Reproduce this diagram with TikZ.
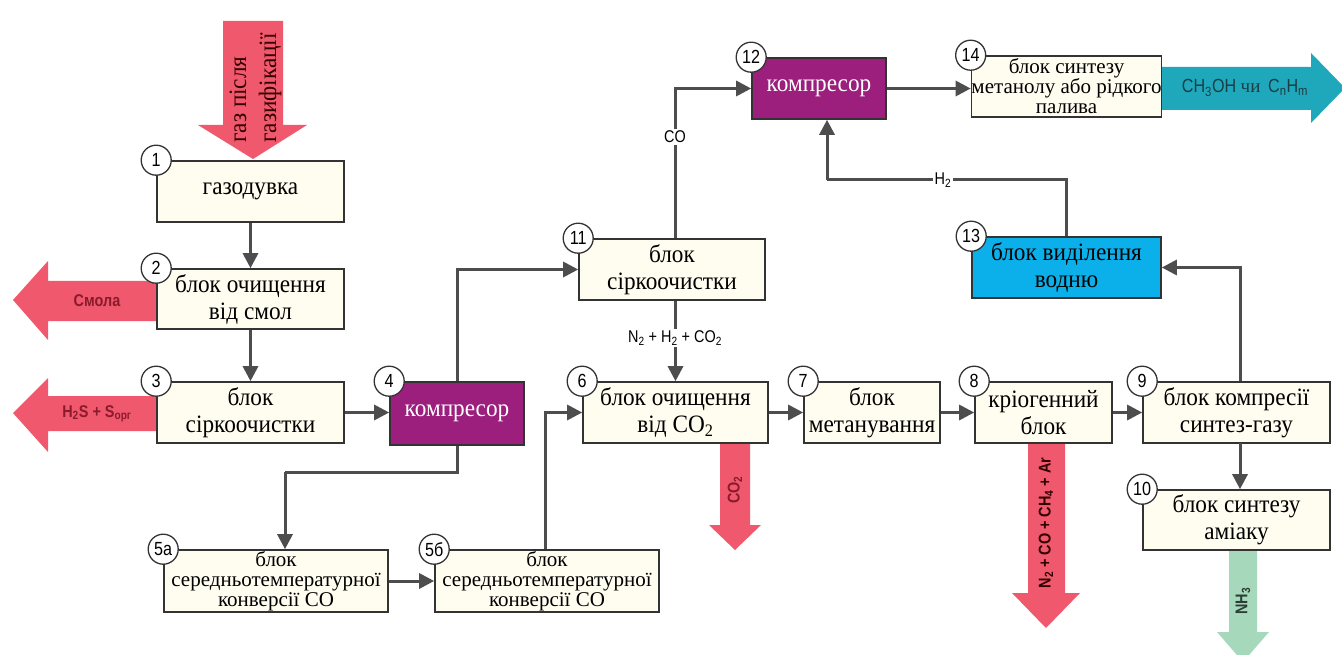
\documentclass[tikz,border=0pt]{standalone}
\usepackage{fontspec}
\setmainfont{Liberation Serif}
\newfontfamily\boxfont[FakeStretch=0.93]{Liberation Serif}
\newfontfamily\condsans[FakeStretch=0.85]{Liberation Sans}
\usetikzlibrary{arrows.meta}
\definecolor{cream}{HTML}{FFFCF0}
\definecolor{boxline}{HTML}{333333}
\definecolor{lineg}{HTML}{4D4D4D}
\definecolor{redarr}{HTML}{F0596D}
\definecolor{tealarr}{HTML}{1FA8BC}
\definecolor{mintarr}{HTML}{A6D8BC}
\definecolor{purp}{HTML}{9C1F7E}
\definecolor{cyanb}{HTML}{0BAFE9}
\definecolor{darkred}{HTML}{8A1A2C}
\definecolor{darkteal}{HTML}{1B3E46}
\definecolor{darkgreen}{HTML}{2C3D35}
\begin{document}
\begin{tikzpicture}[x=1pt,y=-1pt,
  blk/.style={draw=boxline, line width=1.6pt, fill=cream, inner sep=0pt, align=center,
    font=\boxfont\fontsize{25}{27}\selectfont},
  smallblk/.style={blk, font=\fontsize{21}{20}\selectfont},
  purpblk/.style={blk, fill=purp, text=white},
  cyanblk/.style={blk, fill=cyanb},
  numc/.style={circle, draw=boxline, line width=1.3pt, fill=white, minimum size=30pt,
    inner sep=0pt, font=\condsans\fontsize{19}{19}\selectfont},
  conn/.style={draw=lineg, line width=3pt, -{Triangle[length=15pt,width=15pt]}},
  plain/.style={draw=lineg, line width=3pt},
  lbl/.style={fill=white, inner sep=2pt, font=\condsans\fontsize{17}{17}\selectfont},
  arrlbl/.style={inner sep=0pt, font=\condsans\bfseries\fontsize{17}{17}\selectfont},
  gastxt/.style={inner sep=0pt, rotate=90, anchor=base west, text=black!80!red,
    font=\boxfont\fontsize{25}{27}\selectfont}
]
\useasboundingbox (0,0) rectangle (1342,655);
\fill[white] (0,0) rectangle (1342,655);

% fat arrows
\fill[redarr] (223,21) -- (283,21) -- (283,125) -- (307,125) -- (253,159) -- (198,125) -- (223,125) -- cycle;
\fill[redarr] (157,281) -- (48,281) -- (48,261) -- (13,300) -- (48,340) -- (48,321) -- (157,321) -- cycle;
\fill[redarr] (157,396) -- (48,396) -- (48,378) -- (13,413) -- (48,452) -- (48,431) -- (157,431) -- cycle;
\fill[redarr] (720,443) -- (750,443) -- (750,525) -- (761,525) -- (735,550) -- (709,525) -- (720,525) -- cycle;
\fill[redarr] (1028,443) -- (1065,443) -- (1065,593) -- (1080,593) -- (1046,628) -- (1012,593) -- (1028,593) -- cycle;
\fill[mintarr] (1229,550) -- (1257,550) -- (1257,632) -- (1269,632) -- (1243,662) -- (1217,632) -- (1229,632) -- cycle;
\fill[tealarr] (1161,67) -- (1311,67) -- (1311,53) -- (1345,88) -- (1311,123) -- (1311,110) -- (1161,110) -- cycle;

% arrow texts
\node[gastxt] (g1) at (246,143) {газ після};
\node[gastxt] (g2) at (276,143) {газифікації};
\node[arrlbl, text=darkred] (smola) at (97,301) {Смола};
\node[arrlbl, text=darkred] (h2s) at (97,414) {H\textsubscript{2}S + S\textsubscript{орг}};
\node[arrlbl, text=darkred, rotate=90] (co2o) at (735,490) {CO\textsubscript{2}};
\node[arrlbl, text=black!80!red, rotate=90] (n2o) at (1046,523) {N\textsubscript{2} + CO + CH\textsubscript{4} + Ar};
\node[arrlbl, text=darkgreen, rotate=90] (nh3) at (1243,601) {NH\textsubscript{3}};
\node[inner sep=0pt, text=darkteal, font=\condsans\fontsize{19}{19}\selectfont] (meth) at (1245,88) {CH\textsubscript{3}OH {\rmfamily\fontsize{19}{19}\selectfont чи}\, C\textsubscript{n}H\textsubscript{m}};

% boxes
\node[blk, minimum width=187pt, minimum height=61pt] (b1) at (250.5,191.5) {газодувка};
\node[blk, minimum width=187pt, minimum height=60pt] (b2) at (250.5,299) {блок очищення\\від смол};
\node[blk, minimum width=187pt, minimum height=61pt] (b3) at (250.5,412.5) {блок\\сіркоочистки};
\node[purpblk, minimum width=134pt, minimum height=63pt] (b4) at (457,413.5) {компресор};
\node[smallblk, minimum width=224pt, minimum height=62pt] (b5a) at (276,581) {блок\\середньотемпературної\\конверсії СО};
\node[smallblk, minimum width=224pt, minimum height=62pt] (b5b) at (547,581) {блок\\середньотемпературної\\конверсії СО};
\node[blk, minimum width=186pt, minimum height=61pt] (b11) at (672,269.5) {блок\\сіркоочистки};
\node[blk, minimum width=185pt, minimum height=61pt] (b6) at (675.5,412.5) {блок очищення\\від CO\textsubscript{2}};
\node[blk, minimum width=136pt, minimum height=61pt] (b7) at (872,412.5) {блок\\метанування};
\node[blk, minimum width=137pt, minimum height=61pt] (b8) at (1043.5,412.5) {кріогенний\\блок};
\node[blk, minimum width=187pt, minimum height=61pt] (b9) at (1236.5,412.5) {блок компресії\\синтез-газу};
\node[blk, minimum width=187pt, minimum height=60pt] (b10) at (1236.5,520) {блок синтезу\\аміаку};
\node[purpblk, minimum width=134pt, minimum height=61pt] (b12) at (819,88.5) {компресор};
\node[cyanblk, minimum width=189pt, minimum height=61pt] (b13) at (1066.5,267.5) {блок виділення\\водню};
\node[smallblk, minimum width=189pt, minimum height=61pt] (b14) at (1066.5,86.5) {блок синтезу\\метанолу або рідкого\\палива};

% connectors
\coordinate (k45) at (285,472);
\coordinate (kh2) at (827,180);
\coordinate (k910) at (1240,443);
\draw[conn] (b1) -- (b2);
\draw[conn] (b2) -- (b3);
\draw[conn] (b3.east) -- (b3.east -| b4.west);
\draw[conn] (b4.north) |- (b11.west);
\draw[plain] (b4.south) |- (k45);
\draw[conn] (k45) -- (k45 |- b5a.north);
\draw[conn] (b5a.east |- b5b.west) -- (b5b.west);
\draw[conn] (b5b.north -| 545,0) |- (b6.west);
\draw[conn] (b11.south -| b6.north) -- (b6.north);
\draw[conn] (b11.north -| b6.north) |- (b12.west);
\draw[conn] (b12.east) -- (b12.east -| b14.west);
\draw[conn] (b6) -- (b7);
\draw[conn] (b7) -- (b8);
\draw[conn] (b8) -- (b9);
\draw[conn] (k910) -- (k910 |- b10.north);
\draw[conn] (b9.north -| k910) |- (b13.east);
\draw[plain] (b13.north) |- (kh2);
\draw[conn] (kh2) -- (kh2 |- b12.south);

% connector labels
\node[lbl] (lN) at (675,338) {N\textsubscript{2} + H\textsubscript{2} + CO\textsubscript{2}};
\node[lbl] (lCO) at (675,137) {CO};
\node[lbl] (lH) at (943,180) {H\textsubscript{2}};

% numbers
\node[numc] (n1) at (b1.north west) {1};
\node[numc] (n2) at (b2.north west) {2};
\node[numc] (n3) at (b3.north west) {3};
\node[numc] (n4) at (b4.north west) {4};
\node[numc] (n5a) at (b5a.north west) {5а};
\node[numc] (n5b) at (b5b.north west) {5б};
\node[numc] (n6) at (b6.north west) {6};
\node[numc] (n7) at (b7.north west) {7};
\node[numc] (n8) at (b8.north west) {8};
\node[numc] (n9) at (b9.north west) {9};
\node[numc] (n10) at (b10.north west) {10};
\node[numc] (n11) at (b11.north west) {11};
\node[numc] (n12) at (b12.north west) {12};
\node[numc] (n13) at (b13.north west) {13};
\node[numc] (n14) at (b14.north west) {14};
\end{tikzpicture}
\end{document}
